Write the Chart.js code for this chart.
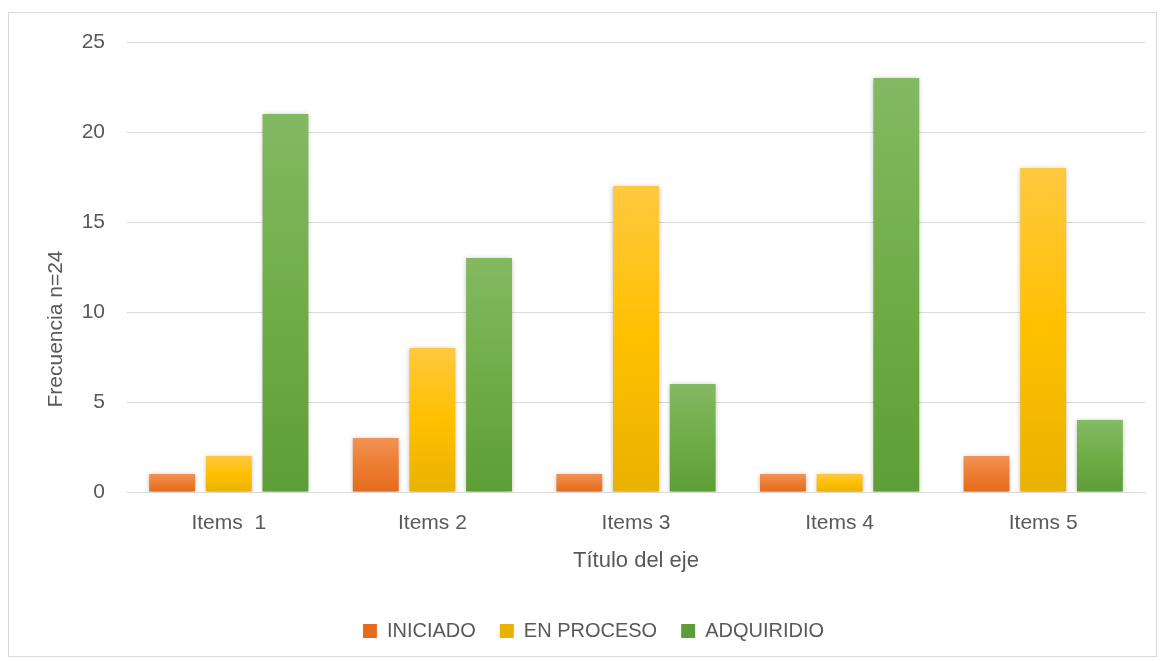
<!DOCTYPE html>
<html>
<head>
<meta charset="utf-8">
<script src="https://cdn.jsdelivr.net/npm/chart.js@4.4.1/dist/chart.umd.min.js"></script>
<style>
  html, body { margin: 0; padding: 0; background: #fff; }
  #wrap { position: relative; width: 1162px; height: 661px; }
  #frame { position: absolute; left: 8px; top: 12px; width: 1149px; height: 645px; border: 1px solid #D9D9D9; box-sizing: border-box; }
  canvas { position: absolute; left: 0; top: 0; }
</style>
</head>
<body>
<div id="wrap">
  <div id="frame"></div>
  <canvas id="chart" width="1162" height="661"></canvas>
</div>
<script>
// data
const categories = ['Items  1', 'Items 2', 'Items 3', 'Items 4', 'Items 5'];
const iniciado = [1, 3, 1, 1, 2];
const enProceso = [2, 8, 17, 1, 18];
const adquiridio = [21, 13, 6, 23, 4];
const yTicks = [0, 5, 10, 15, 20, 25];

const textColor = '#595959';
const fontFamily = '"Liberation Sans", Arial, sans-serif';

// excel-like vertical gradient per bar: light top, base middle, darker bottom
function barFill(light, mid, dark) {
  return (c) => {
    if (c.type !== 'data') return mid;
    const chart = c.chart;
    const y = chart.scales.y;
    if (!chart.chartArea || !y) return mid;
    const top = y.getPixelForValue(c.raw);
    const bot = y.getPixelForValue(0);
    if (!(bot > top)) return mid;
    const g = chart.ctx.createLinearGradient(0, top, 0, bot);
    g.addColorStop(0, light);
    g.addColorStop(0.5, mid);
    g.addColorStop(1, dark);
    return g;
  };
}

const shadow = {
  id: 'shadow',
  beforeDatasetsDraw(chart) {
    const ctx = chart.ctx;
    ctx.save();
    ctx.shadowColor = 'rgba(0,0,0,0.28)';
    ctx.shadowBlur = 5;
    ctx.shadowOffsetX = 0;
    ctx.shadowOffsetY = 1;
  },
  afterDatasetsDraw(chart) {
    chart.ctx.restore();
  }
};

// excel places the value axis title below the plot's middle, so draw it ourselves
const yTitle = {
  id: 'yTitle',
  afterDraw(chart) {
    const ctx = chart.ctx;
    ctx.save();
    ctx.translate(56, 329);
    ctx.rotate(-Math.PI / 2);
    ctx.fillStyle = textColor;
    ctx.font = '21px ' + fontFamily;
    ctx.textAlign = 'center';
    ctx.textBaseline = 'middle';
    ctx.fillText('Frecuencia n=24', 0, 0);
    ctx.restore();
  }
};

new Chart(document.getElementById('chart').getContext('2d'), {
  type: 'bar',
  data: {
    labels: categories,
    datasets: [
      { label: 'INICIADO', data: iniciado, backgroundColor: barFill('#F39256', '#ED7D31', '#E36C1D') },
      { label: 'EN PROCESO', data: enProceso, backgroundColor: barFill('#FFC93F', '#FFC000', '#E9B200') },
      { label: 'ADQUIRIDIO', data: adquiridio, backgroundColor: barFill('#83B963', '#70AD47', '#5E9E36') }
    ]
  },
  options: {
    responsive: false,
    animation: false,
    devicePixelRatio: 1,
    categoryPercentage: 0.835,
    barPercentage: 0.81,
    layout: { padding: { left: 42, right: 17, top: 42, bottom: 10 } },
    plugins: {
      legend: {
        position: 'bottom',
        labels: {
          boxWidth: 14,
          boxHeight: 14,
          padding: 24,
          color: textColor,
          font: { family: fontFamily, size: 20 }
        }
      },
      tooltip: { enabled: false }
    },
    scales: {
      x: {
        grid: { display: false, drawTicks: false },
        border: { display: true, color: '#D9D9D9', width: 1 },
        ticks: { color: textColor, padding: 19, font: { family: fontFamily, size: 21 } },
        title: {
          display: true,
          text: 'Título del eje',
          color: textColor,
          font: { family: fontFamily, size: 22 },
          padding: { top: 0, bottom: 23 }
        },
        afterFit: (s) => { s.height = 105; }
      },
      y: {
        min: 0,
        max: 25,
        afterBuildTicks: (s) => { s.ticks = yTicks.map(v => ({ value: v })); },
        grid: { color: '#D9D9D9', lineWidth: 1, drawTicks: false },
        border: { display: false },
        ticks: { color: textColor, padding: 22, font: { family: fontFamily, size: 21 } },
        title: { display: false },
        afterFit: (s) => { s.width = 85; }
      }
    }
  },
  plugins: [shadow, yTitle]
});
</script>
</body>
</html>
